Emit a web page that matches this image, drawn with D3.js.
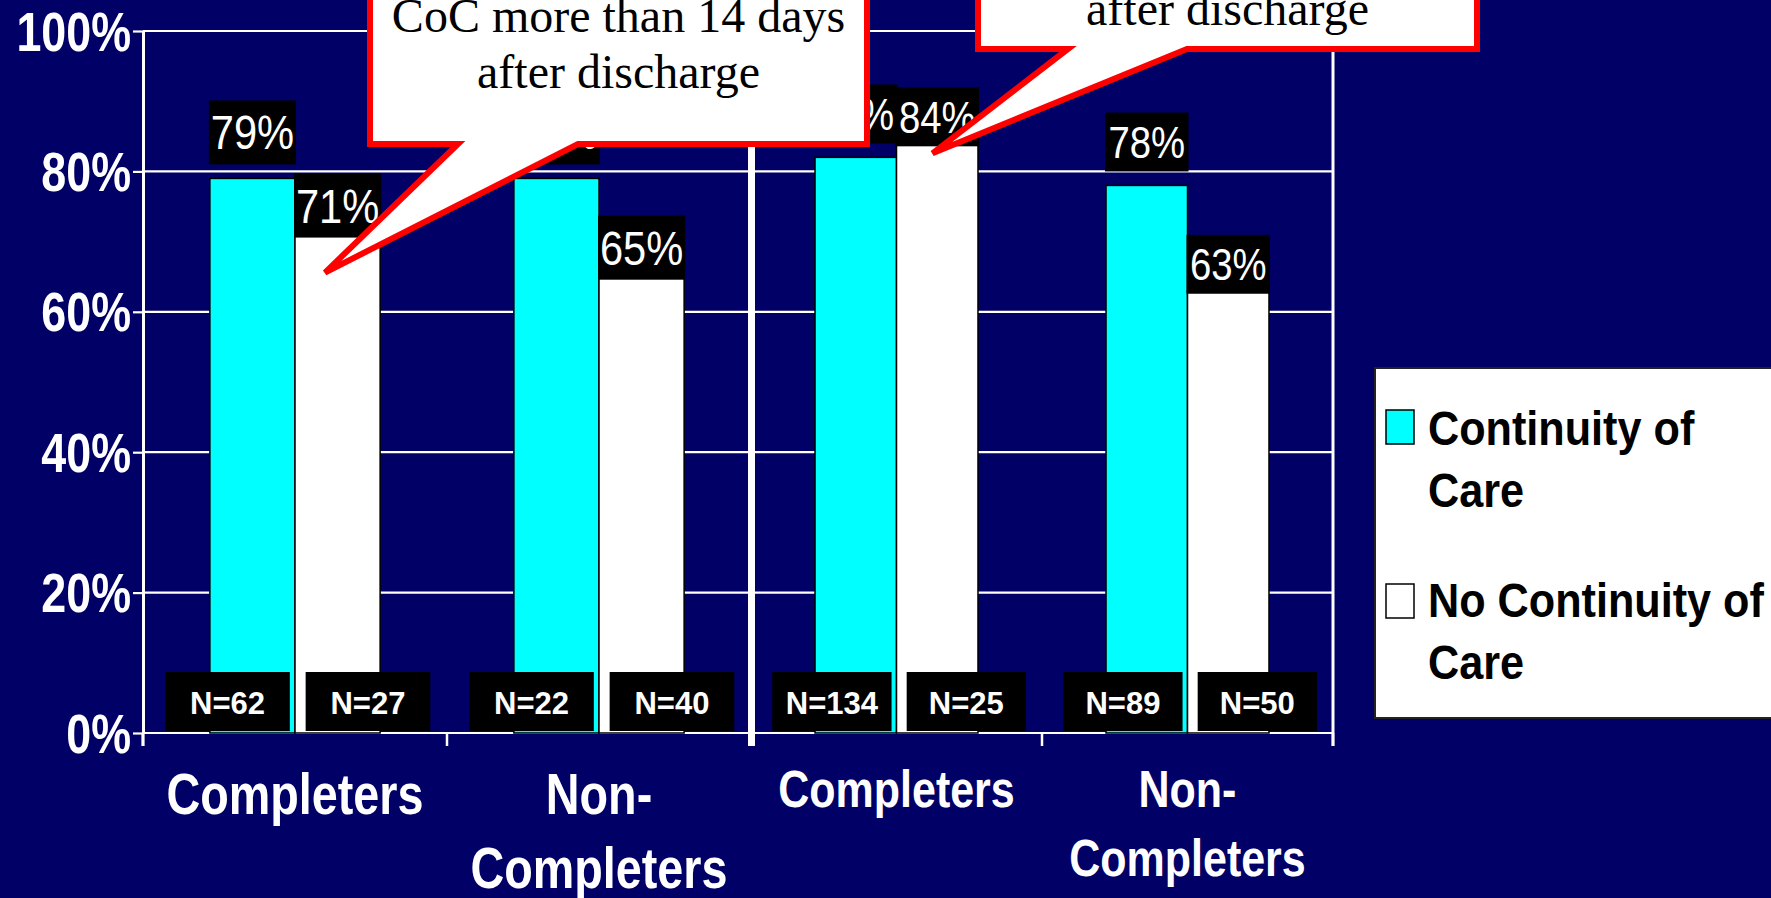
<!DOCTYPE html>
<html>
<head>
<meta charset="utf-8">
<script src="https://cdn.jsdelivr.net/npm/d3@7"></script>
<style>
  html, body { margin: 0; padding: 0; background: #000066; overflow: hidden; }
  svg { display: block; }
</style>
</head>
<body>
<svg id="chart" width="1771" height="898"></svg>
<script>
// ---- data -------------------------------------------------------------
const categories = ["Completers", "Non-Completers"];
// one entry per panel (left panel, right panel), one value per category
const cocPercent   = [[79, 79], [82, 78]];
const noCocPercent = [[71, 65], [84, 63]];
const cocCount     = [[62, 22], [134, 89]];
const noCocCount   = [[27, 40], [25, 50]];
const yTickValues  = [0, 20, 40, 60, 80, 100];
const seriesLabels = [["Continuity of", "Care"], ["No Continuity of", "Care"]];
const calloutText  = [["CoC more than 14 days", "after discharge"], ["after discharge"]];

// ---- layout & style ---------------------------------------------------
const SANS = "'Liberation Sans', Arial, Helvetica, sans-serif";
const SERIF = "'Liberation Serif', 'Times New Roman', serif";
const BG = "#000066";
const seriesStyle = [
  { fill: "#00FFFF", labelLift: -14, countShift: -0.222 },
  { fill: "#FFFFFF", labelLift: 3, countShift: 0.24 }
];
const panels = [
  { range: [143, 751], grid: [143, 748], fs: 1 },
  { range: [751, 1333], grid: [755, 1333], fs: 0.92 }
];

const svg = d3.select("#chart");
svg.append("rect").attr("width", 1771).attr("height", 898).attr("fill", BG);

const y = d3.scaleLinear().domain([0, 100]).range([733, 31]);

function txt(g, x, yy, str, o) {
  return g.append("text")
    .attr("transform", `translate(${x},${yy}) scale(${o.sx || 1},1)`)
    .attr("text-anchor", o.anchor || "middle")
    .attr("font-family", o.family || SANS)
    .attr("font-size", o.size)
    .attr("font-weight", o.weight || "normal")
    .attr("fill", o.fill || "#fff")
    .text(str);
}

const gridLayer = svg.append("g");
const barLayer = svg.append("g");
const frameLayer = svg.append("g");
const labelLayer = svg.append("g");

// gridlines in each panel
panels.forEach(p => {
  gridLayer.selectAll(null).data(yTickValues).join("line")
    .attr("x1", p.grid[0]).attr("x2", p.grid[1])
    .attr("y1", d => y(d)).attr("y2", d => y(d))
    .attr("stroke", "#fff").attr("stroke-width", 2.2);
});

// y axis on the left panel
const yAxis = svg.append("g")
  .attr("transform", `translate(${panels[0].range[0]},0)`)
  .call(d3.axisLeft(y).tickValues(yTickValues).tickSize(10).tickSizeOuter(0)
    .tickFormat(d => d + "%"))
  .attr("color", "#fff")
  .attr("font-family", SANS).attr("font-size", 56).attr("font-weight", "bold");
yAxis.select(".domain").attr("stroke-width", 3);
yAxis.selectAll(".tick line").attr("stroke-width", 2.2);
yAxis.selectAll(".tick text")
  .attr("x", null).attr("dy", null)
  .attr("transform", "translate(-12,19) scale(0.8,1)")
  .attr("text-anchor", "end");

panels.forEach((p, pi) => {
  const x = d3.scaleBand().domain(categories).range(p.range);
  const band = x.bandwidth();
  const bw = band * 0.28;
  const values = [cocPercent[pi], noCocPercent[pi]];
  const counts = [cocCount[pi], noCocCount[pi]];

  const rows = categories.flatMap((c, ci) => values.map((vals, si) => {
    const cx = x(c) + band / 2;
    return {
      cat: c, si, value: vals[ci], n: counts[si][ci], cx,
      bx: si === 0 ? cx - bw : cx
    };
  }));

  // bars
  barLayer.selectAll(null).data(rows).join("rect")
    .attr("x", d => d.bx).attr("width", bw)
    .attr("y", d => y(d.value)).attr("height", d => y(0) - y(d.value))
    .attr("fill", d => seriesStyle[d.si].fill)
    .attr("stroke", "#000").attr("stroke-width", 1.5);

  // x axis: category labels at band centres, ticks on band edges
  const xAxis = frameLayer.append("g")
    .attr("transform", `translate(0,${y(0)})`)
    .call(d3.axisBottom(x).tickSize(0).tickFormat(""));
  xAxis.select(".domain").remove();
  xAxis.selectAll(".tick").each(function (c) {
    const t = d3.select(this);
    t.selectAll("text").remove();
    const size = 57 * p.fs;
    const lines = c.includes("-") ? [c.slice(0, c.indexOf("-") + 1), c.slice(c.indexOf("-") + 1)] : [c];
    lines.forEach((ln, li) => {
      txt(t, 0, size * 1.42 + li * size * 1.3, ln, { size, weight: "bold", sx: 0.82 });
    });
  });
  const edges = [p.range[0], x(categories[1]), p.range[1]];
  frameLayer.selectAll(null).data(edges).join("line")
    .attr("x1", d => d).attr("x2", d => d)
    .attr("y1", y(0)).attr("y2", y(0) + 13)
    .attr("stroke", "#fff").attr("stroke-width", 2.5);

  // N count boxes near the baseline
  rows.forEach(d => {
    const w = band * 0.41;
    const c = d.cx + seriesStyle[d.si].countShift * band;
    labelLayer.append("rect")
      .attr("x", c - w / 2).attr("y", y(0) - 61).attr("width", w).attr("height", 59)
      .attr("fill", "#000");
    txt(labelLayer, c, y(0) - 19, "N=" + d.n, { size: 31, weight: "bold" });
  });

  // percentage labels above each bar
  rows.forEach(d => {
    const h = 64 * p.fs;
    const bottom = y(d.value) + seriesStyle[d.si].labelLift;
    labelLayer.append("rect")
      .attr("x", d.bx - 1).attr("y", bottom - h).attr("width", bw + 2).attr("height", h)
      .attr("fill", "#000");
    txt(labelLayer, d.bx + bw / 2, bottom - 15 * p.fs, d.value + "%",
      { size: 49 * p.fs, sx: 0.85 });
  });

  p.x = x;
  p.bw = bw;
});

// panel frame: divider between the panels and right edge
frameLayer.append("rect").attr("x", 748).attr("y", y(100)).attr("width", 7)
  .attr("height", y(0) - y(100) + 13).attr("fill", "#fff");
frameLayer.append("line").attr("x1", 1333).attr("x2", 1333)
  .attr("y1", y(100)).attr("y2", y(0) + 13)
  .attr("stroke", "#fff").attr("stroke-width", 3);
frameLayer.append("line").attr("x1", 143).attr("x2", 143)
  .attr("y1", y(0)).attr("y2", y(0) + 13)
  .attr("stroke", "#fff").attr("stroke-width", 3);

// legend
const legend = svg.append("g");
legend.append("rect").attr("x", 1375).attr("y", 368).attr("width", 420).attr("height", 350)
  .attr("fill", "#fff").attr("stroke", "#222").attr("stroke-width", 2);
const legendRows = [{ top: 410, base: 445 }, { top: 584, base: 617 }];
seriesLabels.forEach((lines, si) => {
  const r = legendRows[si];
  legend.append("rect").attr("x", 1386).attr("y", r.top).attr("width", 28).attr("height", 34)
    .attr("fill", seriesStyle[si].fill).attr("stroke", "#000").attr("stroke-width", 1.5);
  lines.forEach((ln, li) => {
    txt(legend, 1428, r.base + li * 61.5, ln,
      { size: 48, weight: "bold", sx: 0.9, anchor: "start", fill: "#000" });
  });
});

// callouts pointing at the "No Continuity of Care" bars
function callout(box, tip, baseL, baseR, lines, firstBaseline) {
  const g = svg.append("g");
  const path = `M${box.l},${box.t} L${box.r},${box.t} L${box.r},${box.b} L${baseR},${box.b} ` +
    `L${tip[0]},${tip[1]} L${baseL},${box.b} L${box.l},${box.b} Z`;
  g.append("path").attr("d", path).attr("fill", "#fff")
    .attr("stroke", "#FF0000").attr("stroke-width", 6).attr("stroke-linejoin", "miter");
  const cx = (box.l + box.r) / 2;
  lines.forEach((ln, i) => {
    txt(g, cx, firstBaseline + i * 56, ln, { size: 48, family: SERIF, fill: "#000" });
  });
}
const pL = panels[0], pR = panels[1];
callout({ l: 370, r: 867, t: -60, b: 144 },
  [pL.x("Completers") + pL.x.bandwidth() / 2 + 30, y(noCocPercent[0][0]) + 38],
  458, 578, calloutText[0], 32);
callout({ l: 978, r: 1477, t: -100, b: 49 },
  [pR.x("Completers") + pR.x.bandwidth() / 2 + 36, y(noCocPercent[1][0]) + 10],
  1068, 1187, calloutText[1], 25);
</script>
</body>
</html>
